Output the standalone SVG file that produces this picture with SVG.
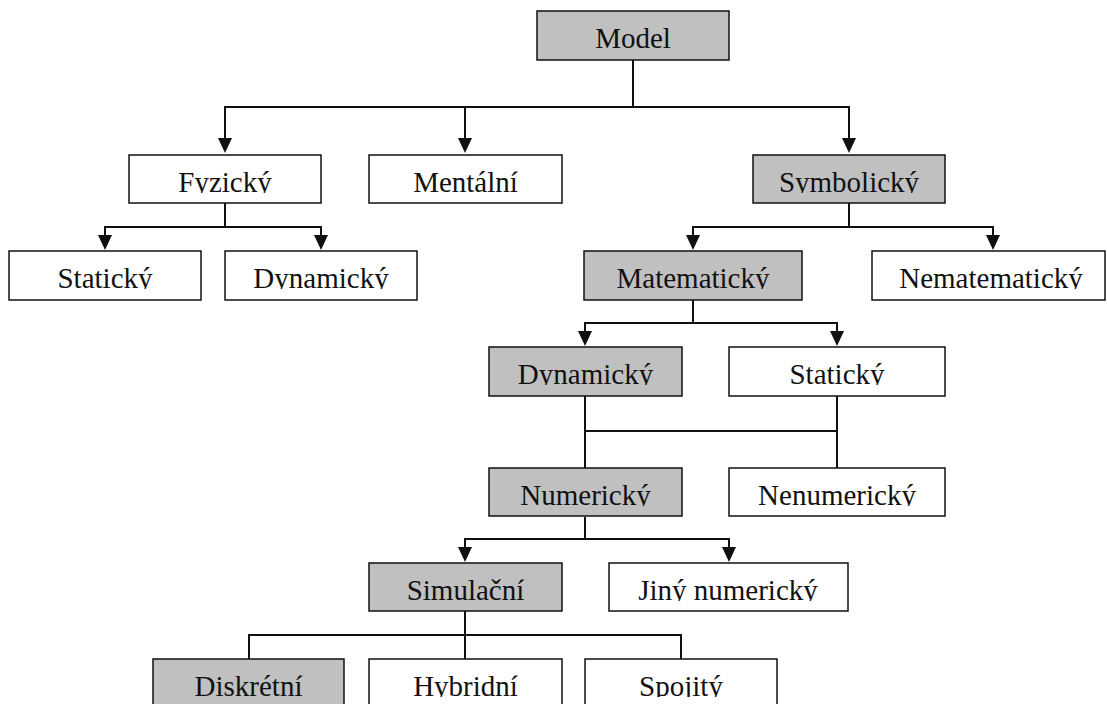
<svg xmlns="http://www.w3.org/2000/svg" width="1107" height="704" viewBox="0 0 1107 704">
  <style>
    .box { stroke: #111; stroke-width: 1.5; }
    .grey { fill: #c0c0c0; }
    .white { fill: #ffffff; }
    .lbl { font-family: "Liberation Serif", "Times New Roman", serif; font-size: 29px; fill: #111; text-anchor: middle; }
    .wire { fill: none; stroke: #111; stroke-width: 2; }
  </style>
  <defs>
    <marker id="arrow" viewBox="0 0 15 14" refX="0" refY="7" markerWidth="15" markerHeight="14" markerUnits="userSpaceOnUse" orient="auto">
      <path d="M0,0 L15,7 L0,14 Z" fill="#111"/>
    </marker>
  </defs>
  <rect width="1107" height="704" fill="#ffffff"/>

  <!-- connectors -->
  <g id="connectors">
    <!-- Model -> Fyzický / Mentální / Symbolický -->
    <path class="wire" d="M633,60 V107 M224,107 H850"/>
    <path class="wire" d="M225,107 V138" marker-end="url(#arrow)"/>
    <path class="wire" d="M465,107 V138" marker-end="url(#arrow)"/>
    <path class="wire" d="M849,107 V138" marker-end="url(#arrow)"/>
    <!-- Fyzický -> Statický / Dynamický -->
    <path class="wire" d="M225,203 V227 M104,227 H322"/>
    <path class="wire" d="M105,227 V235" marker-end="url(#arrow)"/>
    <path class="wire" d="M321,227 V235" marker-end="url(#arrow)"/>
    <!-- Symbolický -> Matematický / Nematematický -->
    <path class="wire" d="M849,203 V227 M692,227 H994"/>
    <path class="wire" d="M693,227 V235" marker-end="url(#arrow)"/>
    <path class="wire" d="M993,227 V235" marker-end="url(#arrow)"/>
    <!-- Matematický -> Dynamický / Statický -->
    <path class="wire" d="M693,300 V323 M584,323 H838"/>
    <path class="wire" d="M585,323 V331" marker-end="url(#arrow)"/>
    <path class="wire" d="M837,323 V331" marker-end="url(#arrow)"/>
    <!-- Dynamický, Statický -> Numerický, Nenumerický -->
    <path class="wire" d="M585,396 V468 M837,396 V468 M584,431 H838"/>
    <!-- Numerický -> Simulační / Jiný numerický -->
    <path class="wire" d="M585,517 V539 M464,539 H730"/>
    <path class="wire" d="M465,539 V547" marker-end="url(#arrow)"/>
    <path class="wire" d="M729,539 V547" marker-end="url(#arrow)"/>
    <!-- Simulační -> Diskrétní / Hybridní / Spojitý -->
    <path class="wire" d="M465,611 V659 M249,659 V635 H681 V659"/>
  </g>

  <!-- nodes: each label is clipped just under its baseline -->
  <g id="model">
    <rect class="box grey" x="537" y="11" width="192" height="49"/>
    <svg x="537" y="11" width="192" height="38"><text class="lbl" x="96" y="37">Model</text></svg>
  </g>
  <g id="fyzicky">
    <rect class="box white" x="129" y="155" width="192" height="48"/>
    <svg x="129" y="155" width="192" height="38"><text class="lbl" x="96" y="37">Fyzický</text></svg>
  </g>
  <g id="mentalni">
    <rect class="box white" x="369" y="155" width="193" height="48"/>
    <svg x="369" y="155" width="193" height="38"><text class="lbl" x="96.5" y="37">Mentální</text></svg>
  </g>
  <g id="symbolicky">
    <rect class="box grey" x="753" y="155" width="192" height="48"/>
    <svg x="753" y="155" width="192" height="38"><text class="lbl" x="96" y="37">Symbolický</text></svg>
  </g>
  <g id="staticky-fyz">
    <rect class="box white" x="9" y="251" width="192" height="49"/>
    <svg x="9" y="251" width="192" height="38"><text class="lbl" x="96" y="37">Statický</text></svg>
  </g>
  <g id="dynamicky-fyz">
    <rect class="box white" x="225" y="251" width="192" height="49"/>
    <svg x="225" y="251" width="192" height="38"><text class="lbl" x="96" y="37">Dynamický</text></svg>
  </g>
  <g id="matematicky">
    <rect class="box grey" x="584" y="251" width="218" height="49"/>
    <svg x="584" y="251" width="218" height="38"><text class="lbl" x="109" y="37">Matematický</text></svg>
  </g>
  <g id="nematematicky">
    <rect class="box white" x="872" y="251" width="233" height="49"/>
    <svg x="872" y="251" width="233" height="38"><text class="lbl" x="119" y="37">Nematematický</text></svg>
  </g>
  <g id="dynamicky-mat">
    <rect class="box grey" x="489" y="347" width="193" height="49"/>
    <svg x="489" y="347" width="193" height="38"><text class="lbl" x="96.5" y="37">Dynamický</text></svg>
  </g>
  <g id="staticky-mat">
    <rect class="box white" x="729" y="347" width="216" height="49"/>
    <svg x="729" y="347" width="216" height="38"><text class="lbl" x="108" y="37">Statický</text></svg>
  </g>
  <g id="numericky">
    <rect class="box grey" x="489" y="468" width="193" height="48"/>
    <svg x="489" y="468" width="193" height="38"><text class="lbl" x="96.5" y="37">Numerický</text></svg>
  </g>
  <g id="nenumericky">
    <rect class="box white" x="729" y="468" width="216" height="48"/>
    <svg x="729" y="468" width="216" height="38"><text class="lbl" x="108" y="37">Nenumerický</text></svg>
  </g>
  <g id="simulacni">
    <rect class="box grey" x="369" y="563" width="193" height="48"/>
    <svg x="369" y="563" width="193" height="38"><text class="lbl" x="96.5" y="37">Simulační</text></svg>
  </g>
  <g id="jiny-numericky">
    <rect class="box white" x="609" y="563" width="239" height="48"/>
    <svg x="609" y="563" width="239" height="38"><text class="lbl" x="119" y="37">Jiný numerický</text></svg>
  </g>
  <g id="diskretni">
    <rect class="box grey" x="153" y="659" width="191" height="48"/>
    <svg x="153" y="659" width="191" height="38"><text class="lbl" x="95.5" y="37">Diskrétní</text></svg>
  </g>
  <g id="hybridni">
    <rect class="box white" x="369" y="659" width="193" height="48"/>
    <svg x="369" y="659" width="193" height="38"><text class="lbl" x="96.5" y="37">Hybridní</text></svg>
  </g>
  <g id="spojity">
    <rect class="box white" x="585" y="659" width="192" height="48"/>
    <svg x="585" y="659" width="192" height="38"><text class="lbl" x="96" y="37">Spojitý</text></svg>
  </g>
</svg>
